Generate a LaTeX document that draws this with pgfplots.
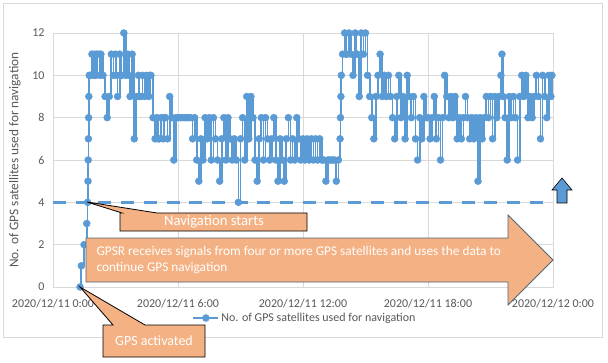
\documentclass[border=0pt]{standalone}
\usepackage{pgfplots}
\pgfplotsset{compat=1.18}
\usepackage{fontspec}
\setmainfont{Carlito}
\definecolor{ser}{HTML}{5B9BD5}
\definecolor{peach}{HTML}{F4B183}
\definecolor{gridc}{HTML}{D9D9D9}
\definecolor{txt}{HTML}{595959}
\definecolor{arrowline}{HTML}{50647A}
\begin{document}
\begin{tikzpicture}[x=1pt,y=1pt]
\useasboundingbox (0,0) rectangle (608,362);
\fill[white] (0,0) rectangle (608,362);
\draw[gridc, line width=0.8pt] (3,25) rectangle (602,359);
\begin{axis}[
 at={(53pt,75pt)}, anchor=south west,
 scale only axis, width=500pt, height=254pt,
 xmin=0, xmax=24, ymin=0, ymax=12,
 xtick={0,6,12,18,24},
 xticklabels={2020/12/11 0:00, 2020/12/11 6:00, 2020/12/11 12:00, 2020/12/11 18:00, 2020/12/12 0:00},
 ytick={0,2,...,12},
 grid=major, major grid style={gridc, line width=0.8pt},
 axis line style={gridc, line width=0.8pt},
 tick style={draw=none},
 ticklabel style={font=\fontsize{12}{14}\selectfont, text=txt},
 xticklabel style={yshift=-9pt},
 yticklabel style={xshift=-5pt},
 /pgf/number format/assume math mode=true,
 ylabel={No. of GPS satellites used for navigation},
 ylabel style={at={(axis description cs:-0.076,0.5)}, anchor=center, font=\fontsize{13.3}{16}\selectfont, text=txt},
 legend style={at={(0.504,-0.122)}, anchor=center, draw=none, fill=none, font=\fontsize{12}{14}\selectfont, text=txt},
 legend image code/.code={\draw[mark repeat=2,mark phase=2] plot coordinates {(0pt,0pt) (12.5pt,0pt) (25pt,0pt)};},
 clip=false,
]
\addplot[const plot, ser, line width=1.8pt, mark=*, mark size=3.5pt, mark options={solid, fill=ser, draw=ser, line width=0.4pt}] table[row sep=\\] {
t v\\
1.30 0\\ 1.36 1\\ 1.49 2\\ 1.62 3\\ 1.66 4\\ 1.68 5\\ 1.69 6\\ 1.70 7\\ 1.71 8\\ 1.72 9\\ 1.74 10\\ 1.80 10\\ 1.87 11\\ 1.95 10\\
2.0 11\\ 2.05 10\\ 2.1 11\\ 2.2 11\\ 2.25 10\\ 2.3 11\\ 2.4 10\\ 2.5 9\\ 2.6 8\\ 2.7 9\\ 2.8 11\\ 2.9 10\\
3.0 11\\ 3.05 10\\ 3.1 9\\ 3.2 11\\ 3.25 10\\ 3.3 10\\ 3.4 12\\ 3.5 10\\ 3.6 11\\ 3.65 10\\ 3.7 9\\ 3.8 11\\ 3.9 7\\
4.0 9\\ 4.1 10\\ 4.15 9\\ 4.2 9\\ 4.3 10\\ 4.4 9\\ 4.5 10\\ 4.6 9\\ 4.65 10\\ 4.7 10\\ 4.8 8\\ 4.9 7\\
5.0 8\\ 5.05 7\\ 5.1 7\\ 5.2 8\\ 5.3 7\\ 5.35 8\\ 5.4 8\\ 5.5 7\\ 5.6 9\\ 5.7 8\\ 5.8 6\\ 5.9 8\\
6.0 8\\ 6.1 8\\ 6.2 8\\ 6.3 8\\ 6.4 8\\ 6.5 8\\ 6.6 8\\ 6.7 7\\ 6.8 8\\ 6.9 6\\
7.0 5\\ 7.1 7\\ 7.2 6\\ 7.3 8\\ 7.4 7\\ 7.5 8\\ 7.6 6\\ 7.7 8\\ 7.8 7\\ 7.9 6\\
8.0 5\\ 8.1 7\\ 8.2 8\\ 8.3 6\\ 8.4 8\\ 8.5 7\\ 8.6 6\\ 8.7 7\\ 8.8 6\\ 8.9 4\\
9.0 7\\ 9.1 8\\ 9.2 6\\ 9.3 9\\ 9.4 7\\ 9.5 9\\ 9.6 8\\ 9.7 6\\ 9.8 5\\ 9.9 7\\
10.0 8\\ 10.1 6\\ 10.2 8\\ 10.3 7\\ 10.4 6\\ 10.5 7\\ 10.6 8\\ 10.7 6\\ 10.8 5\\ 10.9 7\\
11.0 6\\ 11.1 5\\ 11.2 7\\ 11.3 8\\ 11.4 6\\ 11.5 7\\ 11.6 6\\ 11.7 8\\ 11.8 7\\ 11.9 6\\
12.0 7\\ 12.1 6\\ 12.2 7\\ 12.3 6\\ 12.4 7\\ 12.5 6\\ 12.6 7\\ 12.7 6\\ 12.8 7\\ 12.9 6\\
13.0 6\\ 13.1 5\\ 13.2 6\\ 13.3 6\\ 13.4 6\\ 13.5 6\\ 13.6 5\\ 13.7 6\\ 13.78 7\\ 13.80 8\\ 13.82 9\\ 13.84 10\\ 13.9 11\\
14.0 12\\ 14.05 11\\ 14.1 11\\ 14.2 12\\ 14.3 11\\ 14.4 10\\ 14.5 12\\ 14.55 11\\ 14.6 11\\ 14.7 9\\ 14.8 12\\ 14.9 11\\
15.0 12\\ 15.1 10\\ 15.2 9\\ 15.3 8\\ 15.4 7\\ 15.5 9\\ 15.6 10\\ 15.7 11\\ 15.8 9\\ 15.9 10\\
16.0 9\\ 16.1 10\\ 16.2 9\\ 16.3 8\\ 16.4 7\\ 16.5 9\\ 16.6 10\\ 16.7 8\\ 16.8 9\\ 16.9 7\\
17.0 10\\ 17.1 9\\ 17.2 8\\ 17.3 9\\ 17.4 7\\ 17.5 6\\ 17.6 8\\ 17.7 7\\ 17.8 9\\ 17.9 8\\
18.0 8\\ 18.1 7\\ 18.2 8\\ 18.3 9\\ 18.4 7\\ 18.5 8\\ 18.6 6\\ 18.7 8\\ 18.8 10\\ 18.9 9\\
19.0 8\\ 19.1 9\\ 19.2 8\\ 19.3 9\\ 19.4 7\\ 19.5 8\\ 19.6 7\\ 19.7 8\\ 19.8 9\\ 19.9 8\\
20.0 7\\ 20.1 8\\ 20.2 7\\ 20.3 8\\ 20.4 5\\ 20.5 8\\ 20.6 7\\ 20.7 8\\ 20.8 9\\ 20.9 8\\
21.0 9\\ 21.1 7\\ 21.2 9\\ 21.3 8\\ 21.4 9\\ 21.5 10\\ 21.55 11\\ 21.6 9\\ 21.7 8\\ 21.8 6\\ 21.9 9\\
22.0 8\\ 22.1 9\\ 22.2 8\\ 22.3 6\\ 22.4 9\\ 22.5 10\\ 22.6 9\\ 22.7 10\\ 22.8 8\\ 22.9 9\\
23.0 8\\ 23.1 9\\ 23.2 10\\ 23.3 9\\ 23.4 7\\ 23.5 10\\ 23.6 9\\ 23.7 8\\ 23.8 10\\ 23.9 9\\ 23.95 10\\
};
\addlegendentry{No. of GPS satellites used for navigation}
\draw[ser, line width=3pt, dash pattern=on 13pt off 9.7pt] (axis cs:0,4) -- (axis cs:23.7,4);
\end{axis}
% up arrow
\filldraw[fill=ser, draw=black, line width=0.6pt] (557,159) -- (557,172) -- (552,172) -- (562,184) -- (572,172) -- (567,172) -- (567,159) -- cycle;
% navigation starts callout
\filldraw[fill=peach, draw=black, line width=0.8pt] (120,131) -- (120,149) -- (122,149) -- (87,160) -- (157,149) -- (307,149) -- (307,131) -- cycle;
\node[text=white, font=\fontsize{14.67}{17}\selectfont] at (214,140) {Navigation starts};
% big arrow
\filldraw[fill=peach, draw=arrowline, line width=0.8pt] (86,80) -- (86,124) -- (508,124) -- (508,147) -- (553,102) -- (508,57) -- (508,80) -- cycle;
\node[anchor=west, text=white, align=left, font=\fontsize{13.33}{16}\selectfont] at (93,102) {GPSR receives signals from four or more GPS satellites and uses the data to\\continue GPS navigation};
% GPS activated callout
\filldraw[fill=peach, draw=black, line width=0.8pt] (103,5) -- (103,37) -- (113,37) -- (80,75) -- (145,37) -- (205,37) -- (205,5) -- cycle;
\node[text=white, font=\fontsize{14}{17}\selectfont] at (154,21) {GPS activated};
\end{tikzpicture}
\end{document}
